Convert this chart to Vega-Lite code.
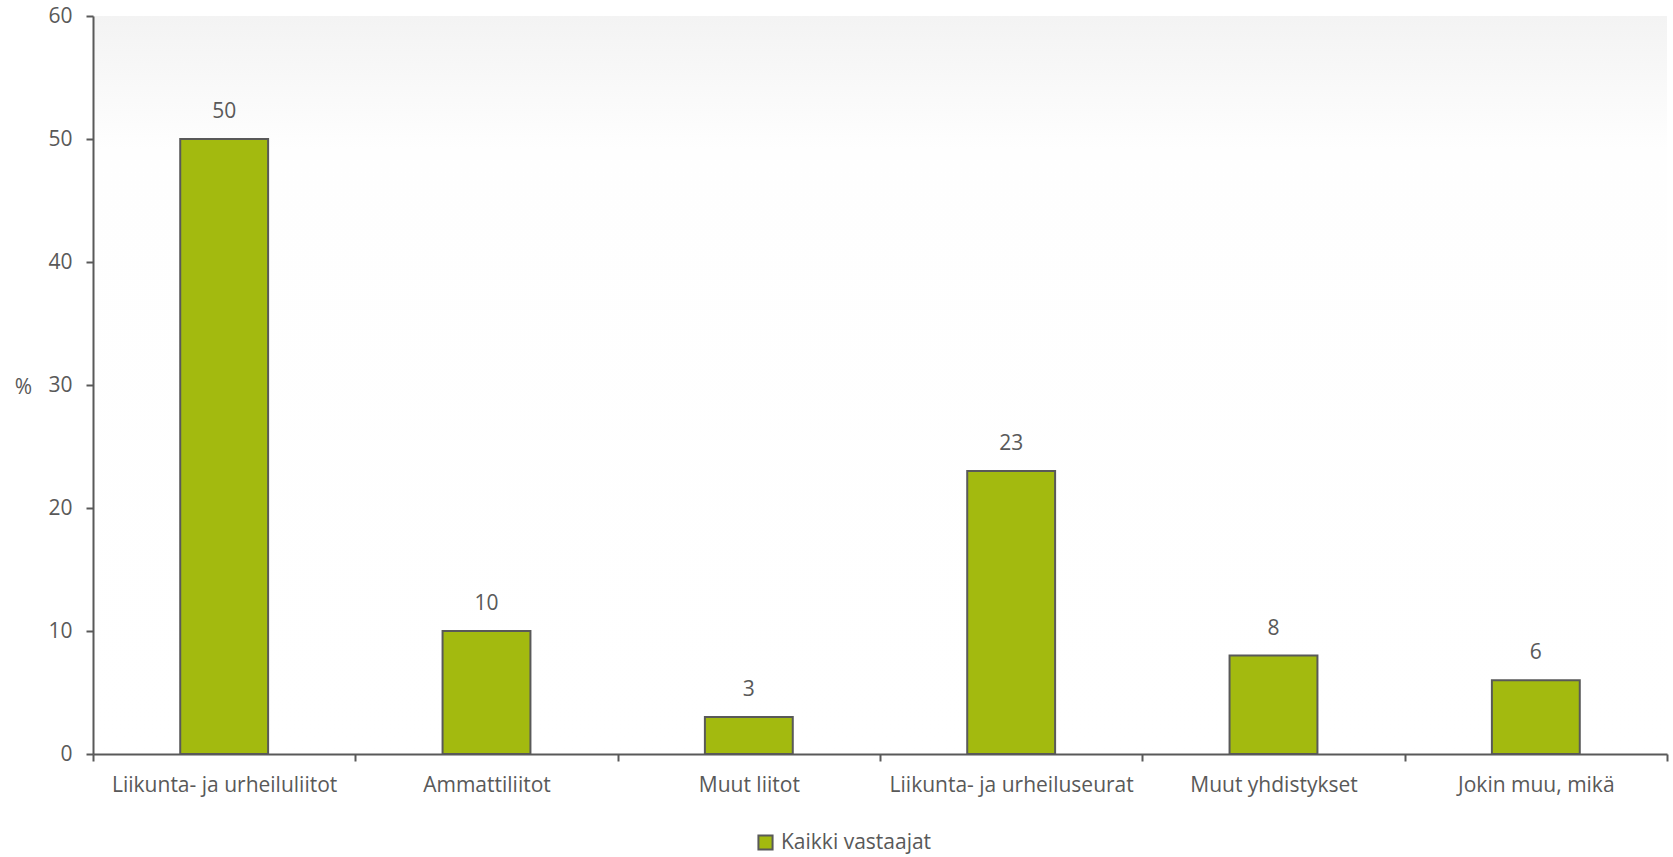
{
  "$schema": "https://vega.github.io/schema/vega-lite/v6.json",
  "autosize": "none",
  "width": 1574,
  "height": 738,
  "padding": {"left": 93, "top": 16, "right": 6, "bottom": 103},
  "background": "#ffffff",
  "data": {
    "values": [
      {"kategoria": "Liikunta- ja urheiluliitot", "arvo": 50, "ryhma": "Kaikki vastaajat"},
      {"kategoria": "Ammattiliitot", "arvo": 10, "ryhma": "Kaikki vastaajat"},
      {"kategoria": "Muut liitot", "arvo": 3, "ryhma": "Kaikki vastaajat"},
      {"kategoria": "Liikunta- ja urheiluseurat", "arvo": 23, "ryhma": "Kaikki vastaajat"},
      {"kategoria": "Muut yhdistykset", "arvo": 8, "ryhma": "Kaikki vastaajat"},
      {"kategoria": "Jokin muu, mikä", "arvo": 6, "ryhma": "Kaikki vastaajat"}
    ]
  },
  "encoding": {
    "x": {
      "field": "kategoria",
      "type": "nominal",
      "sort": null,
      "scale": {"paddingInner": 0, "paddingOuter": 0},
      "axis": {
        "title": null,
        "labelAngle": 0,
        "labelLimit": 0,
        "tickBand": "extent",
        "tickSize": 7,
        "labelPadding": 13,
        "labelFontSize": 21
      }
    },
    "y": {
      "field": "arvo",
      "type": "quantitative",
      "scale": {"domain": [0, 60], "nice": false},
      "axis": {
        "values": [0, 10, 20, 30, 40, 50, 60],
        "title": "%",
        "titleAngle": 0,
        "titleAlign": "center",
        "titleBaseline": "middle",
        "titleX": -70,
        "titleY": 371,
        "titleFontSize": 21,
        "titleFontWeight": "normal",
        "titleColor": "#595959",
        "tickSize": 7,
        "labelPadding": 14,
        "labelFontSize": 21,
        "grid": false
      }
    }
  },
  "layer": [
    {
      "mark": {"type": "bar", "width": {"band": 0.335}, "stroke": "#595959", "strokeWidth": 2},
      "encoding": {
        "color": {
          "field": "ryhma",
          "type": "nominal",
          "scale": {"range": ["#A3BA0F"]},
          "legend": {
            "title": null,
            "orient": "none",
            "legendX": 662,
            "legendY": 816,
            "symbolType": "square",
            "symbolSize": 200,
            "symbolStrokeColor": "#595959",
            "symbolStrokeWidth": 2,
            "labelFontSize": 21,
            "labelColor": "#595959",
            "labelOffset": 5,
            "labelFont": "Open Sans"
          }
        }
      }
    },
    {
      "mark": {"type": "text", "baseline": "alphabetic", "dy": -21, "fontSize": 21, "color": "#595959", "font": "Open Sans"},
      "encoding": {"text": {"field": "arvo", "type": "quantitative"}}
    }
  ],
  "config": {
    "font": "Open Sans",
    "view": {
      "stroke": null,
      "fill": {
        "gradient": "linear",
        "x1": 0, "y1": 0, "x2": 0, "y2": 1,
        "stops": [
          {"offset": 0, "color": "#f3f3f3"},
          {"offset": 0.18, "color": "#fefefe"},
          {"offset": 1, "color": "#ffffff"}
        ]
      }
    },
    "axis": {
      "domainColor": "#595959",
      "domainWidth": 2,
      "tickColor": "#595959",
      "tickWidth": 2,
      "labelColor": "#595959",
      "labelFont": "Open Sans",
      "titleFont": "Open Sans"
    }
  }
}
